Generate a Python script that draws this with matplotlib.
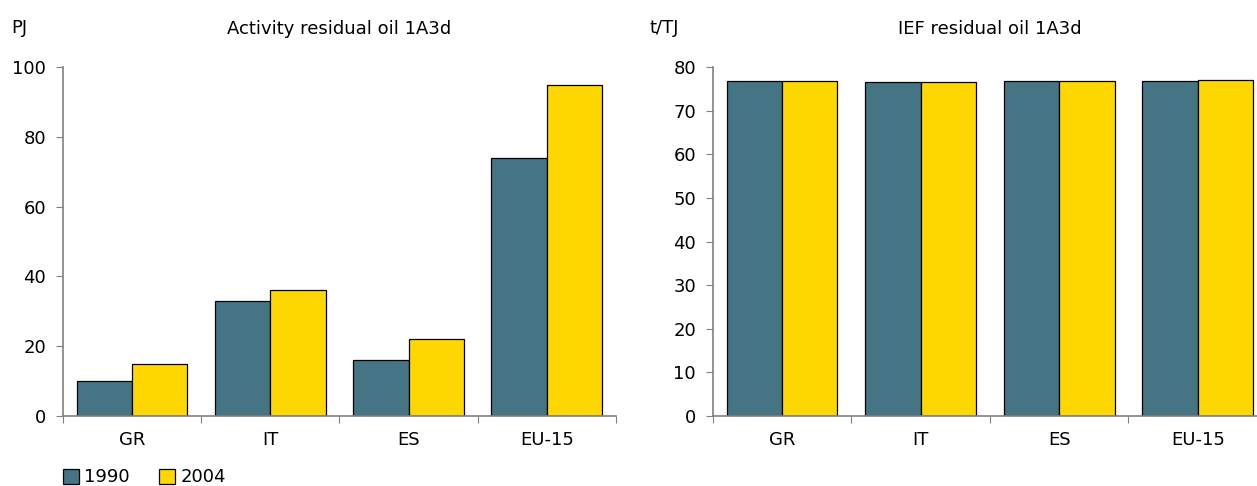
import matplotlib.pyplot as plt
import numpy as np

countries = ["GR", "IT", "ES", "EU-15"]
years = ["1990", "2004"]
activity_1990 = [10, 33, 16, 74]
activity_2004 = [15, 36, 22, 95]
ief_1990 = [76.7, 76.5, 76.8, 76.9]
ief_2004 = [76.7, 76.5, 76.8, 77.0]

teal = "#457585"
yellow = "#FFD700"
axis_grey = "#808080"

plt.rcParams['font.family'] = ['DejaVu Sans']
plt.rcParams['font.size'] = 13

fig = plt.figure(figsize=(12.57, 4.86), dpi=100)
ax1 = fig.add_axes([0.050, 0.144, 0.440, 0.718])
ax2 = fig.add_axes([0.567, 0.144, 0.441, 0.718])

x = np.arange(len(countries))
w = 0.4


def draw(ax, v1, v2, ymax, ystep, title, unit, unit_x):
    ax.bar(x - w / 2, v1, w, color=teal, edgecolor="black", linewidth=0.9, label=years[0])
    ax.bar(x + w / 2, v2, w, color=yellow, edgecolor="black", linewidth=0.9, label=years[1])
    ax.set_xlim(-0.5, len(countries) - 0.5)
    ax.set_ylim(0, ymax)
    ax.set_yticks(np.arange(0, ymax + 1, ystep))
    # category separators as ticks, labels centred in between
    ax.set_xticks(np.arange(-0.5, len(countries), 1.0))
    ax.set_xticklabels([])
    ax.set_xticks(x, minor=True)
    ax.set_xticklabels(countries, minor=True)
    ax.tick_params(axis="x", which="minor", length=0, pad=11)
    ax.tick_params(axis="x", which="major", length=5, color=axis_grey, direction="out")
    ax.tick_params(axis="y", length=5, color=axis_grey, direction="out", pad=7)
    for s in ["top", "right"]:
        ax.spines[s].set_visible(False)
    for s in ["left", "bottom"]:
        ax.spines[s].set_color(axis_grey)
        ax.spines[s].set_linewidth(1.2)
    ax.set_title(title, fontsize=13, pad=24)
    fig.text(unit_x, 0.942, unit, fontsize=13, va="center")


draw(ax1, activity_1990, activity_2004, 100, 20,
     "Activity residual oil 1A3d", "PJ", 0.009)
draw(ax2, ief_1990, ief_2004, 80, 10,
     "IEF residual oil 1A3d", "t/TJ", 0.517)

handles, labels = ax1.get_legend_handles_labels()
fig.legend(handles, labels, loc="center left", bbox_to_anchor=(0.037, 0.018),
           ncol=2, frameon=False, fontsize=13, handlelength=0.9, handleheight=0.9,
           handletextpad=0.3, columnspacing=1.6)

fig.savefig("out.png", dpi=100)
